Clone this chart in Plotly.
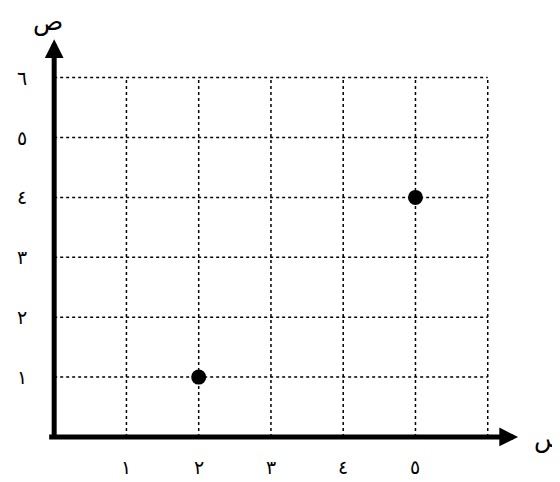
import plotly.graph_objects as go

# data
point_x = [2, 5]
point_y = [1, 4]
x_ticks = [1, 2, 3, 4, 5]
x_tick_labels = ["١", "٢", "٣", "٤", "٥"]
y_ticks = [1, 2, 3, 4, 5, 6]
y_tick_labels = ["١", "٢", "٣", "٤", "٥", "٦"]
grid_max = 6
x_title = "س"
y_title = "ص"

fig = go.Figure()

# dotted grid
for v in range(1, grid_max + 1):
    fig.add_shape(type="line", x0=v, x1=v, y0=0, y1=grid_max,
                  line=dict(color="black", width=1.5, dash="dot"))
    fig.add_shape(type="line", x0=0, x1=grid_max, y0=v, y1=v,
                  line=dict(color="black", width=1.5, dash="dot"))

fig.add_trace(go.Scatter(x=point_x, y=point_y, mode="markers",
                         marker=dict(color="black", size=15),
                         showlegend=False, hoverinfo="skip"))

# axes as arrows
arrow = dict(text="", showarrow=True, axref="x", ayref="y", xref="x", yref="y",
             arrowhead=2, arrowsize=0.75, arrowwidth=5, arrowcolor="black")
fig.add_annotation(x=6.42, y=0, ax=-0.09, ay=0, **arrow)
fig.add_annotation(x=0, y=6.64, ax=0, ay=-0.05, **arrow)

font = dict(family="DejaVu Sans", size=19, color="black")
for t, lab in zip(x_ticks, x_tick_labels):
    fig.add_annotation(x=t, y=-0.5, text=lab, showarrow=False, font=font)
for t, lab in zip(y_ticks, y_tick_labels):
    fig.add_annotation(x=-0.45, y=t, text=lab, showarrow=False, font=font)

title_font = dict(family="DejaVu Sans", size=25, color="black")
fig.add_annotation(x=6.86, y=-0.02, text=x_title, showarrow=False, font=title_font,
                   xanchor="center")
fig.add_annotation(x=-0.08, y=6.93, text=y_title, showarrow=False, font=title_font)

# page body adds an 8px offset, ranges are shifted to compensate
fig.update_xaxes(range=[-0.639, 7.111], visible=False)
fig.update_yaxes(range=[-0.885, 7.162], visible=False)
fig.update_layout(width=560, height=482, margin=dict(l=0, r=0, t=0, b=0),
                  plot_bgcolor="white", paper_bgcolor="white")

fig.write_html("out.html")
